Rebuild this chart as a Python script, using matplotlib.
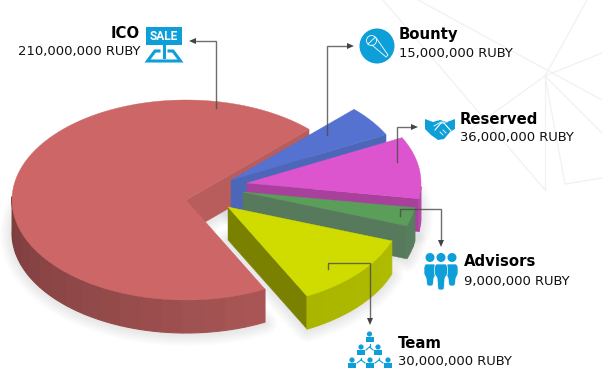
import numpy as np
import matplotlib
matplotlib.use("Agg")
import matplotlib.pyplot as plt
from matplotlib.patches import Circle, Polygon, Rectangle
from matplotlib.colors import to_rgb

# slices in order round the pie, counter-clockwise from the ICO cut
names = ["ICO", "Team", "Advisors", "Reserved", "Bounty"]
amounts = [210000000, 30000000, 9000000, 36000000, 15000000]
# percent of the circle as drawn (not the same as the amounts for team/reserved)
drawn_share = [70, 12, 3, 10, 5]
unit = "RUBY"

START = 45.0
RX, RY, DEPTH = 174, 100, 33
BLUE = "#0e9fd8"

centers = {"ICO": (186, 200), "Team": (228, 207), "Advisors": (243, 192),
           "Reserved": (247, 183), "Bounty": (231, 180)}
top_col = {"ICO": "#cd6666", "Team": "#d0dc00", "Advisors": "#5a9e5a",
           "Reserved": "#dc55cf", "Bounty": "#5572d0"}
wall_col = {"ICO": "#b95c5c", "Team": "#7a8000", "Advisors": "#587a5c",
            "Reserved": "#a8409c", "Bounty": "#4c66b8"}
rim_col = {"ICO": ("#7b3c3c", "#aa5656"), "Team": ("#a9b400", "#b0bc00"),
           "Advisors": ("#587e5f", "#587e5f"), "Reserved": ("#b04aa5", "#b04aa5"),
           "Bounty": ("#4c66b8", "#4c66b8")}
draw_order = ["ICO", "Bounty", "Reserved", "Advisors", "Team"]

fig = plt.figure(figsize=(6.02, 3.79), dpi=100)
ax = fig.add_axes([0, 0, 1, 1])
ax.set_xlim(0, 602)
ax.set_ylim(379, 0)
ax.axis("off")

# faint network in the background
bg_lines = [((545, 76), (587, 0)), ((545, 76), (602, 53)), ((545, 76), (602, 133)),
            ((545, 76), (545, 190)), ((545, 76), (565, 184)), ((545, 76), (470, 130)),
            ((383, 0), (545, 190)), ((418, 0), (602, 100)), ((565, 184), (602, 178))]
for a, b in bg_lines:
    ax.plot([a[0], b[0]], [a[1], b[1]], color="#f1f1f1", lw=0.9, zorder=0)


def edge(cx, cy, t):
    t = np.radians(t)
    return cx + RX * np.cos(t), cy - RY * np.sin(t)


def lerp(c0, c1, f):
    c0, c1 = np.array(to_rgb(c0)), np.array(to_rgb(c1))
    return tuple(c0 + (c1 - c0) * f)


# angle ranges from the shares
spans = {}
a0 = START
for name, s in zip(names, drawn_share):
    spans[name] = (a0, a0 + s * 3.6)
    a0 += s * 3.6

# soft shadow first, under everything
for name in names:
    t0, t1 = spans[name]
    cx, cy = centers[name]
    xs, ys = edge(cx, cy, np.linspace(t0, t1, 90))
    pts = [(cx, cy)] + list(zip(xs, ys))
    low = [(x, y + DEPTH + 1) for x, y in pts]
    for lw in range(24, 1, -3):
        ax.add_patch(Polygon(low, closed=True, fc="none", ec="black", lw=lw * 0.72,
                             alpha=0.012, joinstyle="round", zorder=1))

z = 2
for name in draw_order:
    t0, t1 = spans[name]
    cx, cy = centers[name]
    # cut wall on the start angle
    ex, ey = edge(cx, cy, t0)
    ax.add_patch(Polygon([(cx, cy), (ex, ey), (ex, ey + DEPTH), (cx, cy + DEPTH)],
                         closed=True, fc=wall_col[name], ec=wall_col[name], lw=0.3, zorder=z))
    # outer rim, in bands
    edges = np.append(np.arange(t0, t1, 7.0), t1)
    for b0, b1 in zip(edges[:-1], edges[1:]):
        mid = (b0 + b1) / 2
        if np.sin(np.radians(mid)) >= 0.02:
            continue
        f = np.clip((mid - 180) / 117, 0, 1) if name == "ICO" else (mid - t0) / (t1 - t0)
        col = lerp(rim_col[name][0], rim_col[name][1], f)
        bx, by = edge(cx, cy, np.linspace(b0, b1, 6))
        ax.fill(np.r_[bx, bx[::-1]], np.r_[by, by[::-1] + DEPTH], color=col, ec=col, lw=0.8, zorder=z)
    # top face
    xs, ys = edge(cx, cy, np.linspace(t0, t1, 160))
    ax.fill(np.r_[cx, xs], np.r_[cy, ys], color=top_col[name], lw=0.3, zorder=z)
    z += 1

# leader lines
line_col = "#4a4a4a"
leaders = [
    ([(216, 108), (216, 41), (196, 41)], (189, 41), "left"),
    ([(327, 135), (327, 46), (348, 46)], (354, 46), "right"),
    ([(396.5, 162), (396.5, 127), (412, 127)], (418, 127), "right"),
    ([(399.5, 216), (399.5, 209), (441, 209), (441, 241)], (441, 247), "down"),
    ([(328, 269), (328, 263), (370, 263), (370, 319)], (370, 325), "down"),
]
for pts, tip, way in leaders:
    xs, ys = zip(*pts)
    ax.plot(xs, ys, color=line_col, lw=1.0, alpha=0.8, solid_joinstyle="miter", zorder=20)
    tx, ty = tip
    if way == "left":
        head = [(tx, ty), (tx + 7, ty - 3), (tx + 7, ty + 3)]
    elif way == "right":
        head = [(tx, ty), (tx - 7, ty - 3), (tx - 7, ty + 3)]
    else:
        head = [(tx, ty), (tx - 3, ty - 7), (tx + 3, ty - 7)]
    ax.add_patch(Polygon(head, closed=True, fc="#444444", ec="none", zorder=21))

# sale sign
ax.add_patch(Rectangle((146, 27), 36, 18, fc=BLUE, ec="none", zorder=10))
ax.text(164, 36, "SALE", color="white", fontsize=8.6, fontweight="bold", ha="center",
        va="center", family="Roboto", zorder=11)
ax.plot([164, 164], [45, 57], color=BLUE, lw=2.2, zorder=10)
ax.plot([159, 155, 147.5, 180.5, 173, 169], [51, 51, 61, 61, 51, 51], color=BLUE, lw=2.2,
        solid_joinstyle="miter", zorder=10)

# microphone
ax.add_patch(Circle((377, 46), 17.5, fc=BLUE, ec="none", zorder=10))
ax.add_patch(Circle((371.5, 40.5), 5, fc="none", ec="white", lw=0.6, zorder=11))
ax.plot([368, 375.5, 388, 386, 372], [44, 37, 55, 57, 45], color="white", lw=0.6, zorder=11)

# handshake
ax.add_patch(Polygon([(425, 119), (433, 122), (440, 120), (447, 122), (455, 119), (455, 129), (450, 132),
                      (444, 139), (438, 140), (431, 135), (425, 129)], fc=BLUE, ec="none", zorder=10))
ax.plot([435, 441, 444, 451], [130, 123, 123, 131], color="white", lw=0.8, zorder=11)
ax.plot([434, 441, 447], [126, 122, 122], color="white", lw=0.6, zorder=11)
ax.plot([440, 443], [132, 135], color="white", lw=0.6, zorder=11)
ax.plot([443, 446], [130, 133], color="white", lw=0.6, zorder=11)

# advisors
for x, bottom, half in [(430, 286, 6), (452, 286, 6), (441, 290, 6.5)]:
    ax.add_patch(Circle((x, 257.5), 4.5, fc=BLUE, ec="none", zorder=10 if x == 441 else 9))
    body = [(x - half + 1.5, 264), (x + half - 1.5, 264), (x + half, 267), (x + half, 274), (x + 4, 278),
            (x + 3, bottom - 1), (x + 1.5, bottom), (x - 1.5, bottom), (x - 3, bottom - 1), (x - 4, 278),
            (x - half, 274), (x - half, 267)]
    ax.add_patch(Polygon(body, closed=True, fc=BLUE, ec="white", lw=0.5, zorder=10 if x == 441 else 9))

# team tree
people = [(369.5, 337), (361, 350), (378, 350), (352, 363), (370, 363), (388, 363)]
for px, py in people:
    ax.add_patch(Circle((px, py - 3), 2.6, fc=BLUE, ec="none", zorder=10))
    ax.add_patch(Rectangle((px - 4, py), 8, 4.5, fc=BLUE, ec="none", zorder=10))
for a, b in [((369.5, 344), (369.5, 347)), ((369.5, 347), (366, 350)), ((369.5, 347), (373, 350)),
             ((361, 358), (361, 360)), ((361, 360), (357, 363)), ((361, 360), (365, 363)),
             ((379, 358), (379, 360)), ((379, 360), (375, 363)), ((379, 360), (383, 363))]:
    ax.plot([a[0], b[0]], [a[1], b[1]], color=BLUE, lw=0.8, zorder=10)

# labels
label_pos = {"ICO": (140, 33, 52, "right"), "Bounty": (399, 35, 53, "left"),
             "Reserved": (460, 119, 138, "left"), "Advisors": (464, 262, 281, "left"),
             "Team": (398, 344, 362, "left")}
for name, amount in zip(names, amounts):
    x, y1, y2, ha = label_pos[name]
    ax.text(x, y1, name, fontsize=10.7, fontweight="bold", color="black", ha=ha, va="center", zorder=30)
    ax.text(x, y2, f"{amount:,} {unit}", fontsize=9.45, color="#111111", ha=ha, va="center", zorder=30)

fig.savefig("out.png", dpi=100)
